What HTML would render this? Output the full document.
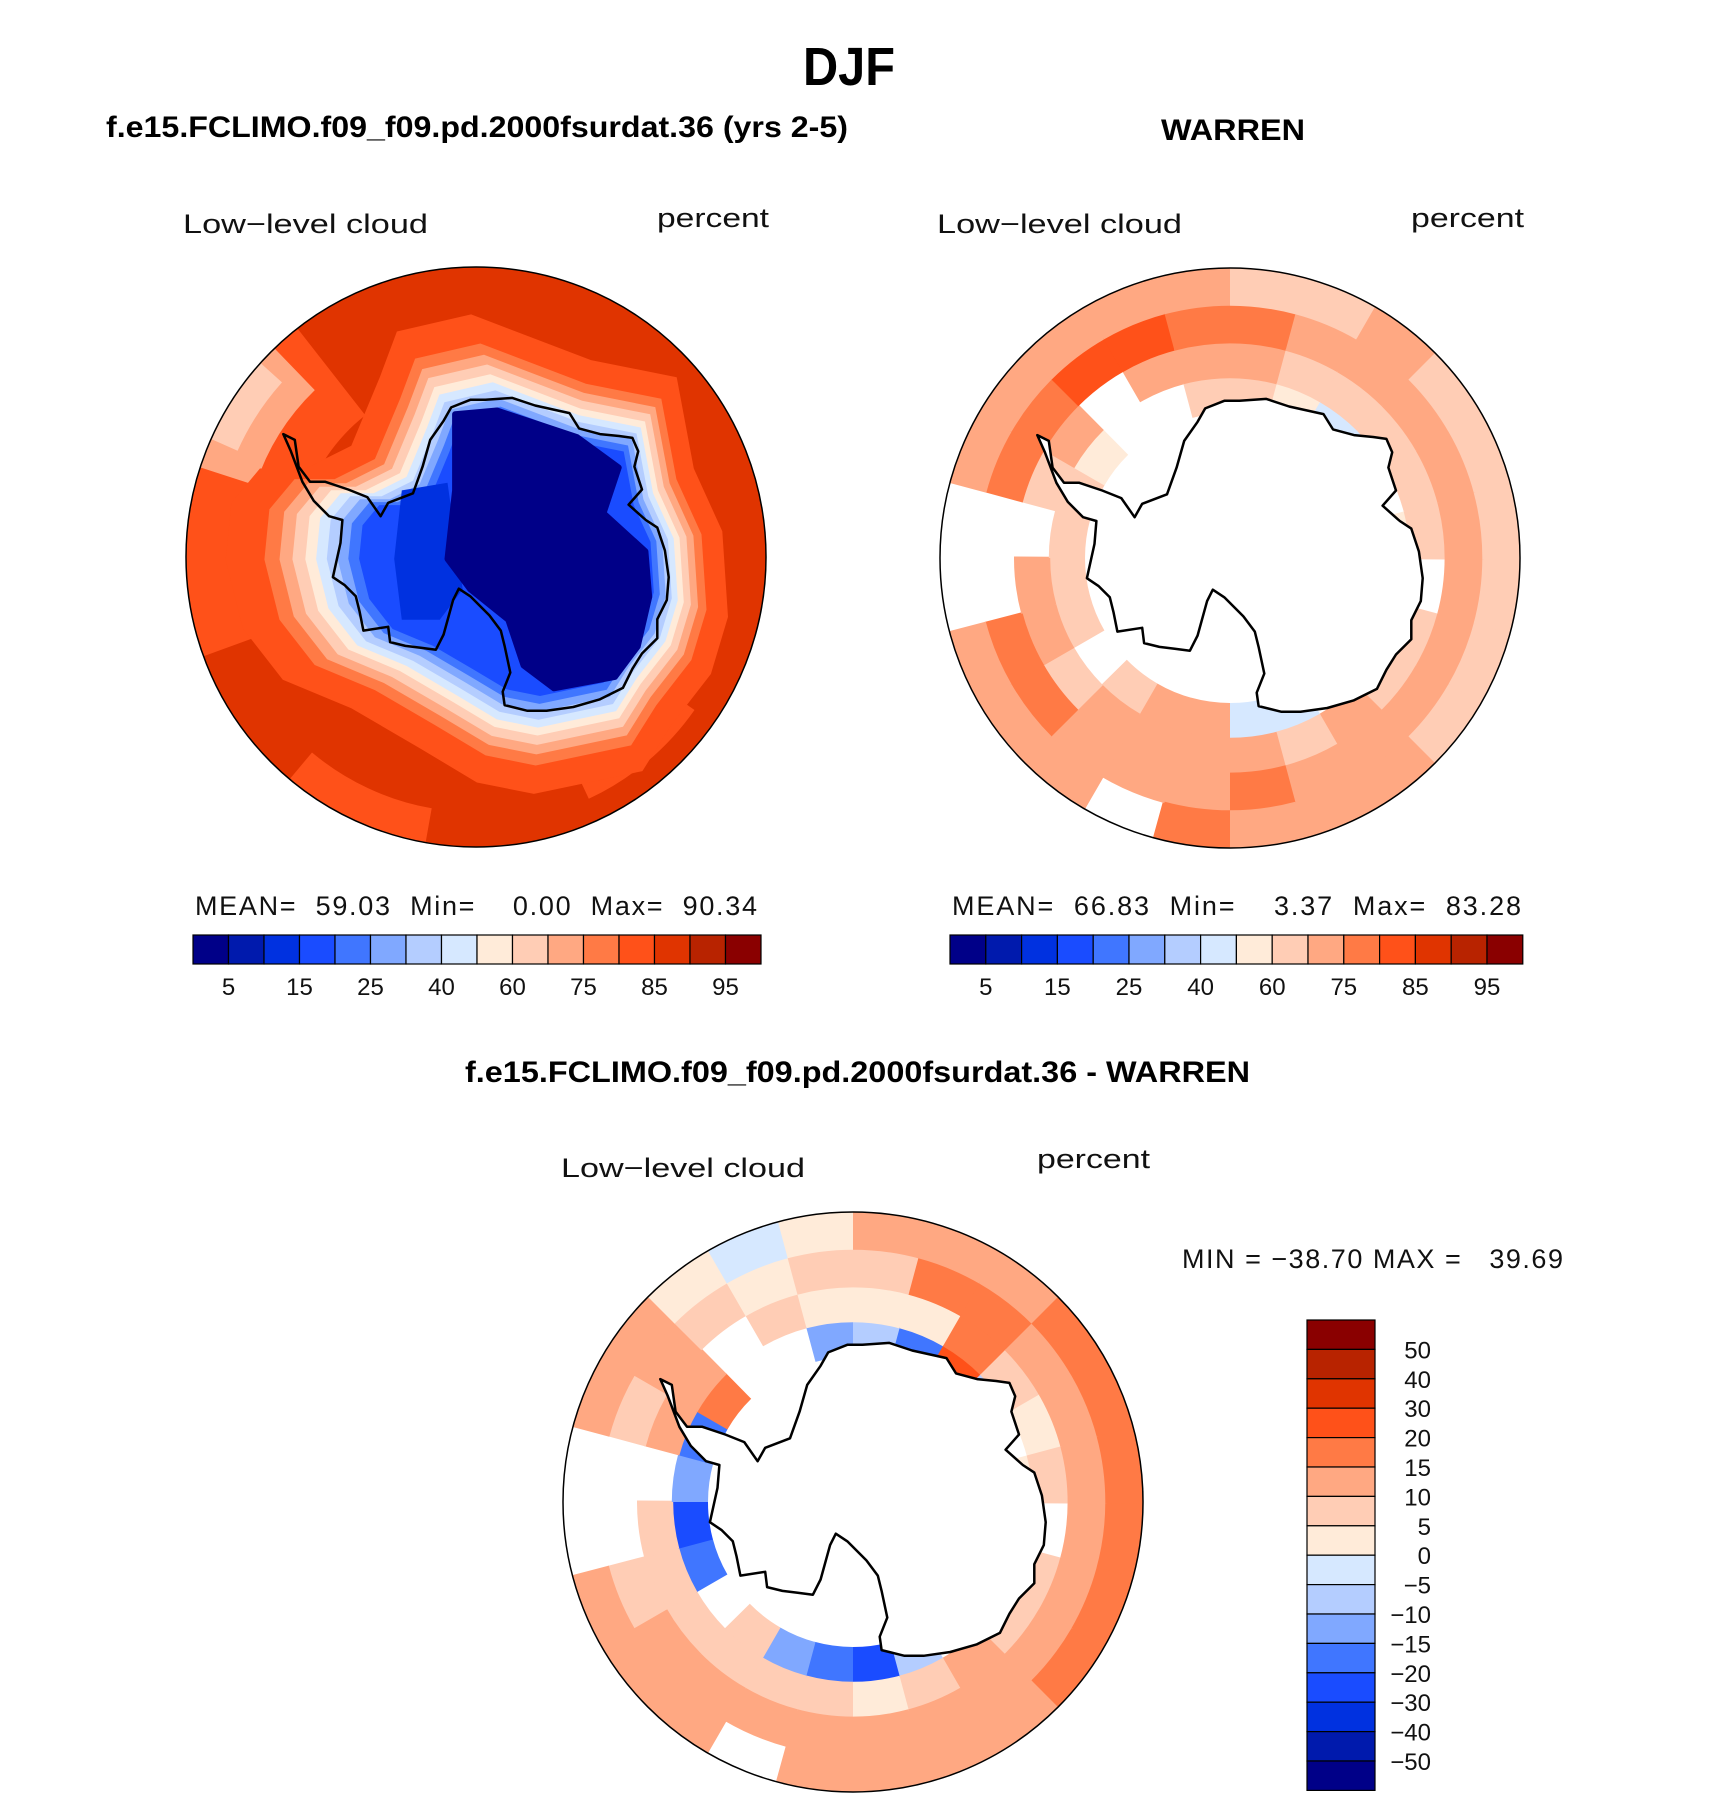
<!DOCTYPE html>
<html><head><meta charset="utf-8"><style>
html,body{margin:0;padding:0;background:#fff}
svg{display:block}
text{font-family:"Liberation Sans",sans-serif}
.t{font-weight:bold}
.l{font-size:27px;fill:#111}
</style></head><body>
<svg id="fig" width="1710" height="1802" viewBox="0 0 1710 1802" xmlns="http://www.w3.org/2000/svg">
<defs>
<clipPath id="c1"><circle cx="476" cy="557" r="290"/></clipPath>
<clipPath id="c2"><circle cx="1230" cy="558" r="290"/></clipPath>
<clipPath id="c3"><circle cx="853" cy="1502" r="290"/></clipPath>
</defs>
<text class="t" x="849" y="85" font-size="54" text-anchor="middle" textLength="92" lengthAdjust="spacingAndGlyphs">DJF</text>
<text class="t" x="106" y="137" font-size="30" textLength="742" lengthAdjust="spacingAndGlyphs">f.e15.FCLIMO.f09_f09.pd.2000fsurdat.36 (yrs 2-5)</text>
<text class="t" x="1233" y="140" font-size="30" text-anchor="middle" textLength="144" lengthAdjust="spacingAndGlyphs">WARREN</text>
<text class="l" x="183" y="233" textLength="245" lengthAdjust="spacingAndGlyphs">Low−level cloud</text>
<text class="l" x="657" y="227" textLength="112" lengthAdjust="spacingAndGlyphs">percent</text>
<text class="l" x="937" y="233" textLength="245" lengthAdjust="spacingAndGlyphs">Low−level cloud</text>
<text class="l" x="1411" y="227" textLength="113" lengthAdjust="spacingAndGlyphs">percent</text>
<text class="l" x="195" y="915" font-size="25" textLength="562" lengthAdjust="spacing" xml:space="preserve">MEAN=  59.03  Min=    0.00  Max=  90.34</text>
<text class="l" x="952" y="915" font-size="25" textLength="569" lengthAdjust="spacing" xml:space="preserve">MEAN=  66.83  Min=    3.37  Max=  83.28</text>
<text class="t" x="465" y="1082" font-size="30" textLength="785" lengthAdjust="spacingAndGlyphs">f.e15.FCLIMO.f09_f09.pd.2000fsurdat.36 - WARREN</text>
<text class="l" x="561" y="1177" textLength="244" lengthAdjust="spacingAndGlyphs">Low−level cloud</text>
<text class="l" x="1037" y="1168" textLength="113" lengthAdjust="spacingAndGlyphs">percent</text>
<text class="l" x="1182" y="1268" font-size="25" textLength="381" lengthAdjust="spacing" xml:space="preserve">MIN = −38.70 MAX =   39.69</text>
<g id="g1" clip-path="url(#c1)"></g>
<g id="g2" clip-path="url(#c2)"></g>
<g id="g3" clip-path="url(#c3)"></g>
<g id="bars"></g>
</svg>
<script>
// ---- data ----
const absLevels = [5,10,15,20,25,30,40,50,60,70,75,80,85,90,95];
const absLabels = ["5","15","25","40","60","75","85","95"];
const diffLevels = [-50,-40,-30,-20,-15,-10,-5,0,5,10,15,20,30,40,50];
const diffLabels = ["50","40","30","20","15","10","5","0","−5","−10","−15","−20","−30","−40","−50"];
const palette = ["#000088","#001aad","#0031e0","#1a4cff","#4076ff","#80a8ff","#b4cdff","#d6e8ff","#ffebd9","#ffcdb5","#ffa882","#ff7a45","#ff5119","#e03400","#b82300","#8a0000"];
// model: contour band values around the continent (outer -> inner)
const modelOcean = 87;
const modelRingValues = [82,78,72,65,55,45,35,27,22,17];
const modelRingScale = [1.5,1.32,1.25,1.19,1.13,1.08,1.03,0.98,0.93,0.88];
const modelWest = 12;
const modelCore = 2;
// model patches: [angleStart, angleEnd, r0, r1, value]
const modelPatches = [[160,232,0.62,1.0,82],[198,226,0.8,1.0,72],[204,222,0.9,1.0,65],[35,65,0.72,0.92,82],[100,130,0.88,1.0,82]];
// WARREN sector grid: 24 sectors x 4 rings (inner->outer)
const obsGrid = [
[null,null,72,65],[null,65,72,65],[null,65,72,65],[null,72,72,72],[45,65,72,72],[45,72,78,72],
[72,72,72,78],[72,72,72,null],[65,72,72,72],[null,65,78,72],[65,72,78,72],[65,72,null,null],
[65,null,null,null],[65,65,78,72],[55,72,78,72],[null,null,82,72],[null,72,82,72],[65,72,78,72],
[65,72,78,65],[55,65,72,65],[45,65,72,72],[45,65,72,65],[null,65,72,65],[55,65,72,65]];
const diffGrid = [
[null,null,12,17],[-3,7,12,17],[null,7,12,17],[null,12,12,12],[-7,7,12,12],[-25,2.5,12,12],
[-17,7,12,12],[-12,7,12,null],[7,7,12,12],[null,7,12,12],[-17,7,7,12],[-25,7,null,null],
[-12,null,null,null],[-17,12,7,12],[17,12,12,12],[null,null,7,2.5],[null,7,2.5,-3],[-12,2.5,7,2.5],
[-7,2.5,7,12],[-17,2.5,17,12],[25,17,17,12],[-7,7,12,17],[null,2.5,12,17],[2.5,7,12,17]];
const ringEdges = [0.5,0.62,0.74,0.87,1.0];
// coastline traced in a 760px-radius frame centred at (805,797)
const coast = [[300,475],[330,490],[340,560],[370,600],[410,600],[470,620],[520,640],[555,690],[575,655],[640,630],[665,560],[685,490],[720,440],[740,405],[790,385],[830,385],[900,380],[960,400],[1050,420],[1075,460],[1130,475],[1180,480],[1215,485],[1230,520],[1220,560],[1240,620],[1205,660],[1250,700],[1280,720],[1300,780],[1310,850],[1305,910],[1280,960],[1280,1010],[1240,1050],[1215,1090],[1190,1140],[1130,1170],[1060,1190],[990,1200],[940,1200],[880,1185],[875,1150],[895,1100],[880,1030],[870,990],[840,950],[790,900],[760,880],[745,910],[720,1000],[700,1040],[660,1035],[620,1030],[580,1020],[575,980],[510,990],[500,940],[490,900],[460,870],[430,850],[450,760],[455,700],[420,690],[380,650],[350,600],[320,520]];
// model outlines in a 762px-radius frame centred at (795,795)
const blob = [[720,400],[850,370],[1060,450],[1210,480],[1240,640],[1290,750],[1300,900],[1270,1000],[1200,1090],[1150,1170],[960,1210],[860,1190],[760,1130],[640,1060],[520,1010],[450,920],[420,800],[430,700],[480,640],[560,640],[640,600],[690,480]];
const navyShape = [[740,420],[850,410],[1060,480],[1170,560],[1130,680],[1240,780],[1250,900],[1220,1030],[1160,1110],[1000,1140],[920,1080],[880,960],[780,880],[720,800],[740,620]];
const westShape = [[600,620],[720,600],[760,880],[700,960],[600,960],[580,800]];

const NS='http://www.w3.org/2000/svg';
function colAbs(v){let i=0;while(i<absLevels.length&&v>=absLevels[i])i++;return palette[i];}
function colDiff(v){let i=0;while(i<diffLevels.length&&v>=diffLevels[i])i++;return palette[i];}
function mk(tag,parent){const e=document.createElementNS(NS,tag);parent.appendChild(e);return e;}
function sectorPath(cx,cy,R,r0,r1,a0,a1){
 const t0=a0*Math.PI/180,t1=a1*Math.PI/180;
 const p=(r,t)=>(cx+r*R*Math.cos(t)).toFixed(1)+','+(cy+r*R*Math.sin(t)).toFixed(1);
 return 'M'+p(r0,t0)+'L'+p(r1,t0)+'A'+r1*R+','+r1*R+' 0 0 1 '+p(r1,t1)+'L'+p(r0,t1)+'A'+r0*R+','+r0*R+' 0 0 0 '+p(r0,t0)+'Z';
}
const R=290;
function pts(list,fx,fy,fs,cx,cy,s,ox,oy){
 return list.map(q=>{const nx=(q[0]-fx)/fs,ny=(q[1]-fy)/fs;return (cx+(ox+(nx-ox)*s)*R).toFixed(1)+','+(cy+(oy+(ny-oy)*s)*R).toFixed(1);}).join(' ');
}
function drawCoast(g,cx,cy,fill){
 const p=mk('polygon',g);
 
 
 p.setAttribute('points',pts(coast,805,797,760,cx,cy,1,0,0));
 p.setAttribute('fill',fill);p.setAttribute('stroke','#000');p.setAttribute('stroke-width','2.5');p.setAttribute('stroke-linejoin','round');
}
function border(cx,cy){
 const c=mk('circle',document.getElementById('fig'));
 
 
 c.setAttribute('cx',cx);c.setAttribute('cy',cy);c.setAttribute('r',R);c.setAttribute('fill','none');c.setAttribute('stroke','#000');c.setAttribute('stroke-width','1.5');
}
// ---- model map ----
(function(){
 const g=document.getElementById('g1'),cx=476,cy=557;
 const bg=mk('circle',g);
 
 
 bg.setAttribute('cx',cx);bg.setAttribute('cy',cy);bg.setAttribute('r',R);bg.setAttribute('fill',colAbs(modelOcean));
 modelPatches.forEach(pt=>{const e=mk('path',g);
  
  
  e.setAttribute('d',sectorPath(cx,cy,R,pt[2],pt[3],pt[0],pt[1]));e.setAttribute('fill',colAbs(pt[4]));});
 modelRingValues.forEach((v,i)=>{const e=mk('polygon',g);
  
  
  e.setAttribute('points',pts(blob,795,795,762,cx,cy,modelRingScale[i],0.25,0));e.setAttribute('fill',colAbs(v));e.setAttribute('stroke-linejoin','round');});
 const w=mk('polygon',g);
 
 
 w.setAttribute('points',pts(westShape,795,795,762,cx,cy,1,0,0));w.setAttribute('fill',colAbs(modelWest));
 const core=mk('polygon',g);
 
 
 core.setAttribute('points',pts(navyShape,795,795,762,cx,cy,1,0,0));core.setAttribute('fill',colAbs(modelCore));core.setAttribute('stroke',colAbs(modelCore));core.setAttribute('stroke-width','6');core.setAttribute('stroke-linejoin','round');
 drawCoast(g,cx,cy,'none');
 border(cx,cy);
})();
function gridMap(gid,cx,cy,grid,colf,name){
 const g=document.getElementById(gid);
 grid.forEach((row,s)=>row.forEach((v,k)=>{ if(v===null)return; const e=mk('path',g);
  
  
  e.setAttribute('d',sectorPath(cx,cy,R,ringEdges[k],ringEdges[k+1]+0.005,s*15,(s+1)*15+0.4));e.setAttribute('fill',colf(v));}));
 drawCoast(g,cx,cy,'#fff');
 border(cx,cy);
}
gridMap('g2',1230,558,obsGrid,colAbs,'obs');
gridMap('g3',853,1502,diffGrid,colDiff,'diff');
// ---- colorbars ----
const bars=document.getElementById('bars');
function hbar(x0,w,name){
 const y=935,h=29;
 palette.forEach((c,i)=>{const r=mk('rect',bars);
  
  
  r.setAttribute('x',x0+i*w);r.setAttribute('y',y);r.setAttribute('width',w);r.setAttribute('height',h);r.setAttribute('fill',c);r.setAttribute('stroke','#000');r.setAttribute('stroke-width','1.2');});
 absLabels.forEach((t,j)=>{const e=mk('text',bars);
  
  
  e.setAttribute('x',x0+(2*j+1)*w);e.setAttribute('y',995);e.setAttribute('text-anchor','middle');e.setAttribute('font-size','24');e.setAttribute('fill','#111');e.textContent=t;});
}
hbar(193,35.5,'model-colorbar');hbar(950,35.8,'obs-colorbar');
(function(){
 const x=1307,w=68,y0=1320,h=29.4;
 palette.slice().reverse().forEach((c,i)=>{const r=mk('rect',bars);
  
  
  r.setAttribute('x',x);r.setAttribute('y',y0+i*h);r.setAttribute('width',w);r.setAttribute('height',h);r.setAttribute('fill',c);r.setAttribute('stroke','#000');r.setAttribute('stroke-width','1.2');});
 diffLabels.forEach((t,i)=>{const e=mk('text',bars);
  
  
  e.setAttribute('x',1431);e.setAttribute('y',y0+(i+1)*h+9);e.setAttribute('text-anchor','end');e.setAttribute('font-size','24');e.setAttribute('fill','#111');e.textContent=t;});
})();
</script>
</body></html>
